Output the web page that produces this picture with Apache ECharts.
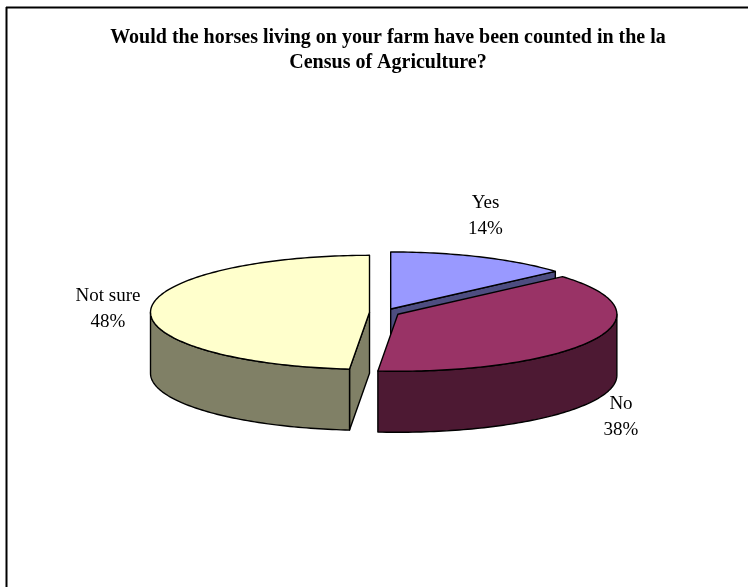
<!DOCTYPE html>
<html>
<head>
<meta charset="utf-8">
<style>html,body{margin:0;padding:0;background:#fff}#c{width:748px;height:587px}</style>
<script src="https://cdn.jsdelivr.net/npm/echarts@6/dist/echarts.min.js"></script>
</head>
<body>
<div id="c"></div>
<script>
const categories = ['Yes', 'No', 'Not sure'];
const values = [13.5, 37.8, 48.4];
const percentLabels = ['14%', '38%', '48%'];
const titleLines = ['Would the horses living on your farm have been counted in the la', 'Census of Agriculture?'];
const topColors = ['#9999FF', '#993366', '#FFFFCC'];
const sideColors = ['#4D4D80', '#4D1933', '#808066'];

const PIE = { cx: 384.5, cy: 312.5, rx: 219, ry: 57, depth: 61, explode: 15 };
const LABEL_AT = [[485.5, 216], [621, 417], [108, 309]];
const FONT = '"Liberation Serif", "Times New Roman", serif';
const total = values.reduce((a, b) => a + b, 0);

function rim(c, t, down) {
  return [c[0] + PIE.rx * Math.sin(t), c[1] - PIE.ry * Math.cos(t) + (down ? PIE.depth : 0)];
}
function arc(c, a, b, down) {
  const pts = [], n = Math.max(2, Math.ceil(Math.abs(b - a) / 0.02));
  for (let i = 0; i <= n; i++) pts.push(rim(c, a + (b - a) * i / n, down));
  return pts;
}
function poly(points, fill) {
  return { type: 'polygon', shape: { points }, style: { fill, stroke: '#000', lineWidth: 1.4, lineJoin: 'round' } };
}
function renderSlice(params, api) {
  const i = params.dataIndex;
  const before = values.slice(0, i).reduce((a, b) => a + b, 0);
  const a = before / total * Math.PI * 2, b = (before + values[i]) / total * Math.PI * 2;
  const mid = (a + b) / 2, k = PIE.ry / PIE.rx;
  const c = [PIE.cx + PIE.explode * Math.sin(mid), PIE.cy - PIE.explode * k * Math.cos(mid)];
  const bottom = [c[0], c[1] + PIE.depth];
  const kids = [];
  // visible radial cut faces
  [[a, Math.sin(a) < 0], [b, Math.sin(b) > 0]].forEach(([t, show]) => {
    if (show) kids.push(poly([c, rim(c, t), rim(c, t, true), bottom], sideColors[i]));
  });
  // outer wall, front half only
  const w0 = Math.max(a, Math.PI / 2), w1 = Math.min(b, Math.PI * 1.5);
  if (w1 > w0) kids.push(poly(arc(c, w0, w1).concat(arc(c, w1, w0, true)), sideColors[i]));
  // top face
  kids.push(poly([c].concat(arc(c, a, b)), topColors[i]));
  // label
  kids.push({
    type: 'text',
    style: {
      x: LABEL_AT[i][0], y: LABEL_AT[i][1], text: categories[i] + '\n' + percentLabels[i],
      align: 'center', verticalAlign: 'middle', fill: '#000',
      font: '19px ' + FONT, lineHeight: 26
    }
  });
  return { type: 'group', children: kids };
}

const chart = echarts.init(document.getElementById('c'), null, { renderer: 'canvas' });
chart.setOption({
  backgroundColor: '#fff',
  animation: false,
  title: {
    text: titleLines.join('\n'), left: 383, top: 20, textAlign: 'center',
    textStyle: { fontFamily: FONT, fontWeight: 'bold', fontSize: 20, lineHeight: 25, color: '#000' }
  },
  graphic: [
    { type: 'line', shape: { x1: 6, y1: 7.5, x2: 748, y2: 7.5 }, style: { stroke: '#000', lineWidth: 2 } },
    { type: 'line', shape: { x1: 6.5, y1: 7, x2: 6.5, y2: 587 }, style: { stroke: '#000', lineWidth: 2 } }
  ],
  series: [{
    type: 'custom', coordinateSystem: 'none', silent: true,
    data: categories.map((name, i) => ({ name, value: values[i] })),
    renderItem: renderSlice
  }]
});
</script>
</body>
</html>
